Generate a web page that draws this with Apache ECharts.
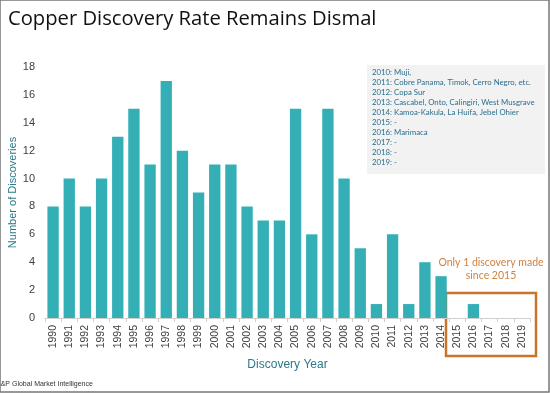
<!DOCTYPE html>
<html><head><meta charset="utf-8">
<script src="https://cdn.jsdelivr.net/npm/echarts@6/dist/echarts.min.js"></script>
<style>html,body{margin:0;padding:0;background:#fff}#c{width:550px;height:393px}</style>
</head><body><div id="c"></div>
<script>
const years = ['1990','1991','1992','1993','1994','1995','1996','1997','1998','1999','2000','2001','2002','2003','2004','2005','2006','2007','2008','2009','2010','2011','2012','2013','2014','2015','2016','2017','2018','2019'];
const discoveries = [8,10,8,10,13,15,11,17,12,9,11,11,8,7,7,15,6,15,10,5,1,6,1,4,3,0,1,0,0,0];
const yTicks = {min:0, max:18, interval:2};
const noteLines = ['2010: Muji,','2011: Cobre Panama, Timok, Cerro Negro, etc.','2012: Copa Sur','2013: Cascabel, Onto, Calingiri, West Musgrave','2014: Kamoa-Kakula, La Huifa, Jebel Ohier','2015: -','2016: Marimaca','2017: -','2018: -','2019: -'];
const titleText = 'Copper Discovery Rate Remains Dismal';
const calloutText = 'Only 1 discovery made\nsince 2015';
const sourceText = 'S&P Global Market Intelligence';

const chart = echarts.init(document.getElementById('c'), null, {renderer:'canvas'});
const noteGraphics = noteLines.map((t,i)=>({
  type:'text', x:372, y:68 + i*10.1,
  style:{text:t, fill:'#2B6F8C', font:'7.8px Lato, sans-serif'}
}));
chart.setOption({
  animation:false,
  backgroundColor:'#fff',
  title:{text:titleText, left:3, top:4, textStyle:{fontFamily:'"Open Sans", sans-serif', fontWeight:'normal', fontSize:20.2, color:'#111'}},
  grid:{left:45, right:20, top:67, bottom:75, containLabel:false, outerBoundsMode:'none'},
  xAxis:{type:'category', data:years,
    name:'Discovery Year', nameLocation:'middle', nameGap:41,
    nameTextStyle:{color:'#2B7A8C', fontSize:12, fontFamily:'Liberation Sans, Arial'},
    axisLine:{lineStyle:{color:'#D0D0D0'}},
    axisTick:{show:true, alignWithLabel:false, length:4, lineStyle:{color:'#D0D0D0'}},
    axisLabel:{rotate:90, color:'#404040', fontSize:10.5, fontFamily:'Liberation Sans, Arial', margin:7, interval:0}
  },
  yAxis:{type:'value', min:yTicks.min, max:yTicks.max, interval:yTicks.interval,
    name:'Number of Discoveries', nameLocation:'middle', nameGap:27, nameMoveOverlap:false,
    nameTextStyle:{color:'#2B7A8C', fontSize:11, fontFamily:'Liberation Sans, Arial'},
    axisLine:{show:false}, axisTick:{show:false}, splitLine:{show:false},
    axisLabel:{color:'#404040', fontSize:11, fontFamily:'Liberation Sans, Arial', margin:10}
  },
  series:[{type:'bar', data:discoveries, barCategoryGap:'30%',
    itemStyle:{color:'#33AFB5'}}],
  graphic:[
    {type:'rect', x:367, y:65, shape:{width:178, height:109}, style:{fill:'#F2F2F2'}, z:-1},
    ...noteGraphics,
    {type:'text', x:491, y:256, style:{text:calloutText, fill:'#D0813F', font:'10.5px Lato, sans-serif', align:'center', lineHeight:13}},
    {type:'rect', x:446, y:293, shape:{width:90, height:63}, style:{fill:'none', stroke:'#C8742A', lineWidth:2.5}},
    {type:'text', x:-4, y:381, style:{text:sourceText, fill:'#333', font:'7px "Liberation Sans", Arial'}},
    {type:'rect', x:0, y:0, shape:{width:549, height:392}, style:{fill:'none', stroke:'#777', lineWidth:1.5}}
  ]
});
</script></body></html>
